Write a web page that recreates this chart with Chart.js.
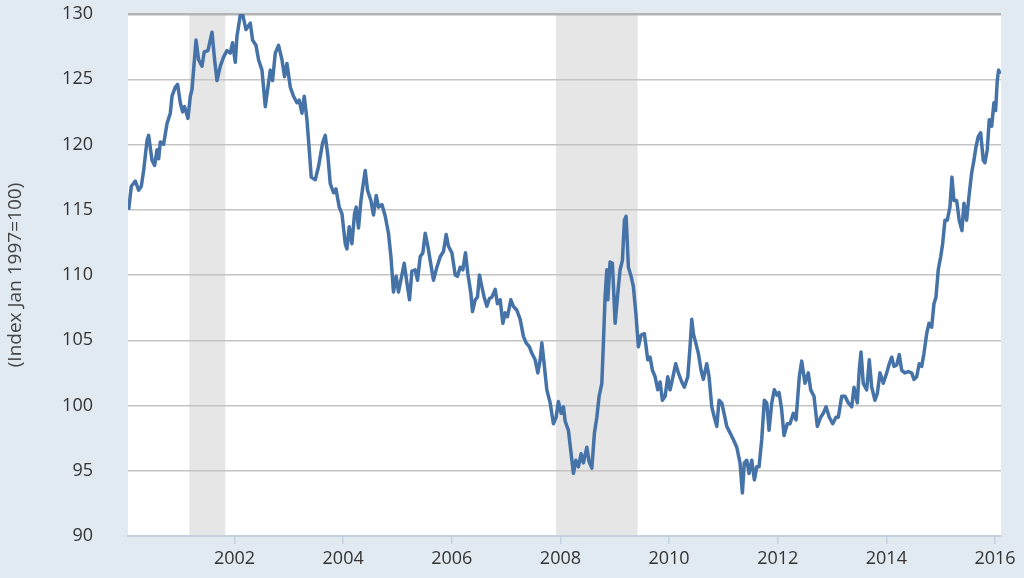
<!DOCTYPE html>
<html>
<head>
<meta charset="utf-8">
<script src="https://cdn.jsdelivr.net/npm/chart.js@4"></script>
<style>
html,body{margin:0;padding:0;background:#e1e9f1;}
#wrap{width:1024px;height:578px;position:relative;}
</style>
</head>
<body>
<div id="wrap"><canvas id="c" width="1024" height="578"></canvas></div>
<script>
// Decimal-year dates and index values
const dates = [
2000.052,2000.101,2000.175,2000.236,2000.285,2000.328,2000.390,2000.420,2000.482,2000.530,2000.574,2000.604,2000.635,2000.695,2000.758,2000.819,2000.850,2000.911,2000.953,
2001.003,2001.045,2001.082,2001.144,2001.187,2001.218,2001.247,2001.292,2001.339,2001.402,2001.444,2001.512,2001.586,2001.634,2001.678,2001.739,2001.799,2001.862,2001.923,2001.965,
2002.015,2002.046,2002.107,2002.149,2002.212,2002.291,2002.333,2002.396,2002.443,2002.506,2002.567,2002.616,2002.659,2002.701,2002.751,2002.811,2002.874,2002.922,2002.966,
2003.027,2003.087,2003.150,2003.192,2003.242,2003.284,2003.334,2003.376,2003.413,2003.487,2003.547,2003.621,2003.671,2003.720,2003.763,2003.823,2003.868,2003.928,2003.978,
2004.039,2004.070,2004.112,2004.162,2004.210,2004.241,2004.283,2004.328,2004.364,2004.407,2004.449,2004.512,2004.559,2004.609,2004.651,2004.714,2004.775,2004.835,2004.880,2004.927,2004.977,
2005.019,2005.063,2005.124,2005.174,2005.222,2005.266,2005.327,2005.369,2005.419,2005.468,2005.511,2005.560,2005.603,2005.663,2005.726,2005.787,2005.847,2005.897,2005.939,
2006.002,2006.063,2006.105,2006.155,2006.204,2006.252,2006.296,2006.351,2006.381,2006.431,2006.473,2006.510,2006.554,2006.596,2006.646,2006.694,2006.738,2006.799,2006.841,2006.891,2006.940,2006.983,
2007.025,2007.087,2007.135,2007.198,2007.259,2007.319,2007.369,2007.430,2007.474,2007.535,2007.584,2007.627,2007.658,2007.700,2007.750,2007.811,2007.871,2007.921,2007.963,
2008.013,2008.055,2008.087,2008.147,2008.197,2008.239,2008.283,2008.331,2008.381,2008.423,2008.486,2008.528,2008.578,2008.626,2008.670,2008.712,2008.762,2008.791,2008.822,2008.854,2008.872,2008.914,2008.957,
2009.007,2009.056,2009.098,2009.141,2009.178,2009.209,2009.251,2009.301,2009.343,2009.388,2009.435,2009.485,2009.546,2009.608,2009.651,2009.693,2009.743,2009.792,2009.835,2009.877,2009.927,2009.976,
2010.018,2010.061,2010.123,2010.171,2010.234,2010.281,2010.344,2010.386,2010.418,2010.447,2010.491,2010.539,2010.589,2010.631,2010.694,2010.736,2010.786,2010.833,2010.878,2010.920,2010.970,
2011.012,2011.062,2011.122,2011.183,2011.246,2011.306,2011.349,2011.385,2011.430,2011.472,2011.522,2011.570,2011.614,2011.656,2011.706,2011.753,2011.798,2011.840,2011.890,2011.937,2011.982,
2012.024,2012.069,2012.117,2012.176,2012.226,2012.287,2012.337,2012.397,2012.442,2012.502,2012.563,2012.607,2012.668,2012.729,2012.791,2012.839,2012.889,2012.949,
2013.012,2013.073,2013.115,2013.178,2013.239,2013.299,2013.362,2013.404,2013.465,2013.501,2013.533,2013.575,2013.638,2013.685,2013.730,2013.790,2013.833,2013.882,2013.943,
2014.006,2014.054,2014.098,2014.140,2014.190,2014.237,2014.282,2014.342,2014.403,2014.466,2014.508,2014.557,2014.605,2014.650,2014.692,2014.742,2014.784,2014.834,2014.876,2014.913,2014.955,
2015.000,2015.036,2015.078,2015.121,2015.170,2015.207,2015.244,2015.294,2015.341,2015.391,2015.428,2015.477,2015.520,2015.569,2015.612,2015.649,2015.691,2015.736,2015.783,2015.814,2015.857,2015.894,2015.938,2015.980,
2016.011,2016.041,2016.066,2016.090
];
const values = [
115.0,116.8,117.2,116.5,116.8,118.0,120.3,120.7,118.8,118.4,119.6,118.9,120.2,120.0,121.6,122.4,123.7,124.4,124.6,
123.2,122.5,122.9,122.0,123.7,124.2,125.7,128.0,126.5,126.0,127.1,127.2,128.6,126.5,124.9,126.0,126.7,127.2,127.0,127.8,
126.3,128.3,129.9,130.0,128.8,129.3,128.0,127.6,126.5,125.7,122.9,124.4,125.7,124.9,127.0,127.6,126.5,125.2,126.2,
124.4,123.7,123.2,123.4,122.4,123.7,121.9,119.6,117.5,117.3,118.3,120.1,120.7,119.1,117.0,116.3,116.6,115.2,114.7,
112.4,112.0,113.7,112.4,114.7,115.2,113.6,115.7,116.8,118.0,116.5,115.7,114.6,116.1,115.2,115.4,114.5,113.2,111.4,108.7,109.9,
108.7,109.6,110.9,109.4,108.1,110.3,110.4,109.6,111.4,111.7,113.2,112.2,111.1,109.6,110.6,111.4,111.8,113.1,112.2,
111.7,110.0,109.9,110.6,110.4,111.7,110.1,108.6,107.2,108.1,108.3,110.0,109.1,108.3,107.6,108.2,108.3,108.9,107.8,108.1,106.3,107.1,
106.8,108.1,107.6,107.3,106.6,105.3,104.8,104.5,104.0,103.5,102.5,103.5,104.8,103.2,101.2,100.2,98.6,99.1,100.3,
99.4,99.9,98.8,98.1,96.3,94.8,95.8,95.3,96.3,95.6,96.8,95.7,95.2,97.9,99.1,100.7,101.7,104.8,108.3,110.4,108.1,111.0,110.9,
106.3,108.6,110.4,111.1,114.2,114.5,110.6,109.9,109.1,107.1,104.5,105.4,105.5,103.5,103.7,102.7,102.2,101.2,101.8,100.4,100.7,102.2,
101.2,102.0,103.2,102.5,101.8,101.4,102.2,104.5,106.6,105.5,104.8,104.0,102.7,102.0,103.2,102.2,99.9,99.1,98.4,100.4,100.2,
99.4,98.4,97.9,97.4,96.8,95.6,93.3,95.6,95.8,94.8,95.8,94.3,95.3,95.3,97.4,100.4,100.2,98.1,100.2,101.2,100.8,
101.0,99.8,97.7,98.6,98.6,99.4,98.9,102.2,103.4,101.7,102.5,101.2,100.7,98.4,99.1,99.4,99.9,99.1,
98.6,99.1,99.1,100.7,100.7,100.2,99.9,101.4,100.2,102.7,104.1,101.7,101.2,103.5,101.4,100.4,100.9,102.5,101.7,
102.5,103.2,103.7,103.0,103.1,103.9,102.7,102.5,102.6,102.5,102.0,102.2,103.2,103.0,104.0,105.5,106.3,106.0,107.8,108.3,110.4,
111.4,112.4,114.2,114.2,115.2,117.5,115.7,115.7,114.2,113.4,115.5,114.2,116.0,117.8,118.8,119.8,120.6,120.9,118.8,118.6,119.6,121.9,121.4,123.2,
122.6,124.9,125.7,125.4
];
const xTickYears = [2002,2004,2006,2008,2010,2012,2014,2016];
const yTicks = [90,95,100,105,110,115,120,125,130];
const recessionStarts = [2001.17, 2007.92];
const recessionEnds = [2001.83, 2009.42];
const yTitle = '(Index Jan 1997=100)';

const FONT = "'Open Sans', 'Noto Sans', sans-serif";

const bgPlugin = {
  id: 'bgPlugin',
  beforeDraw(chart) {
    const {ctx, chartArea: a, scales: {x}} = chart;
    ctx.save();
    ctx.fillStyle = '#e1e9f1';
    ctx.fillRect(0, 0, chart.width, chart.height);
    ctx.fillStyle = '#ffffff';
    ctx.fillRect(a.left, a.top, a.right - a.left, a.bottom - a.top);
    ctx.fillStyle = '#e6e6e6';
    for (let i = 0; i < recessionStarts.length; i++) {
      const x0 = Math.max(a.left, x.getPixelForValue(recessionStarts[i]));
      const x1 = Math.min(a.right, x.getPixelForValue(recessionEnds[i]));
      ctx.fillRect(x0, a.top, x1 - x0, a.bottom - a.top);
    }
    ctx.restore();
  }
};

new Chart(document.getElementById('c'), {
  type: 'line',
  data: {
    datasets: [{
      data: dates.map((d, i) => ({x: d, y: values[i]})),
      borderColor: '#4572a7',
      borderWidth: 3.5,
      pointRadius: 0,
      tension: 0,
      borderJoinStyle: 'round',
      fill: false
    }]
  },
  options: {
    responsive: false,
    animation: false,
    devicePixelRatio: 1,
    layout: {padding: {top: 14, right: 23, bottom: 0, left: 0}},
    plugins: {legend: {display: false}, tooltip: {enabled: false}},
    scales: {
      x: {
        type: 'linear',
        min: 2000.04,
        max: 2016.11,
        afterBuildTicks(scale) { scale.ticks = xTickYears.map(v => ({value: v})); },
        afterFit(scale) { scale.height = 42; },
        ticks: {
          callback: v => String(v),
          font: {family: FONT, size: 18},
          color: '#333333',
          padding: 4,
          maxRotation: 0,
          autoSkip: false
        },
        grid: {drawOnChartArea: false, drawTicks: true, tickLength: 8, color: '#c3d0dd', lineWidth: 1.5},
        border: {display: true, color: '#c3d0dd', width: 2}
      },
      y: {
        type: 'linear',
        min: 90,
        max: 130,
        afterBuildTicks(scale) { scale.ticks = yTicks.map(v => ({value: v})); },
        afterFit(scale) { scale.width = 128; },
        ticks: {
          font: {family: FONT, size: 18},
          color: '#333333',
          padding: 2
        },
        grid: {
          drawTicks: true,
          tickLength: 33,
          tickColor: 'rgba(0,0,0,0)',
          color: ctx => ctx.tick && ctx.tick.value === 130 ? '#b4b4b4' : (ctx.tick && ctx.tick.value === 90 ? 'rgba(0,0,0,0)' : '#c4c4c4'),
          lineWidth: ctx => ctx.tick && ctx.tick.value === 130 ? 2.5 : 1.5
        },
        border: {display: false},
        title: {
          display: true,
          text: yTitle,
          font: {family: FONT, size: 19},
          color: '#444444',
          padding: {top: 4, bottom: 0}
        }
      }
    }
  },
  plugins: [bgPlugin]
});
</script>
</body>
</html>
